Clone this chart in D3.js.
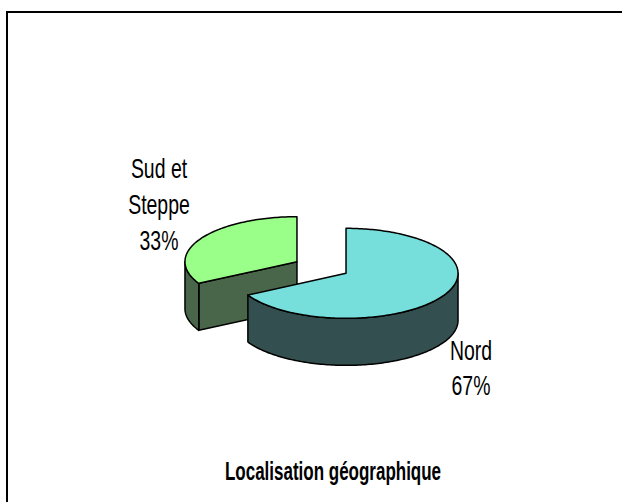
<!DOCTYPE html>
<html>
<head>
<meta charset="utf-8">
<script src="https://cdn.jsdelivr.net/npm/d3@7"></script>
<style>
  html, body { margin: 0; padding: 0; background: #fff; }
  svg { display: block; }
  text { font-family: "Liberation Sans", Arial, sans-serif; }
</style>
</head>
<body>
<svg id="chart" width="622" height="502"></svg>
<script>
// ---- data ----
const categories = ["Nord", "Sud et Steppe"];
const values = [67, 33];
const labelLines = [["Nord"], ["Sud et", "Steppe"]];
const topColors = ["#76DEDB", "#99FF88"];
const sideColors = ["#344F4F", "#4A664A"];
const title = "Localisation géographique";

// ---- geometry ----
const W = 622, H = 502;
const cx = 321.5, cy = 267.5, rx = 112, ry = 45, depth = 47, explode = 28.5;

const svg = d3.select("#chart");

// frame
svg.append("rect")
  .attr("x", 7).attr("y", 12).attr("width", 800).attr("height", 800)
  .attr("fill", "none").attr("stroke", "#000").attr("stroke-width", 2);

const total = d3.sum(values);
const pie = d3.pie().sort(null).startAngle(0).endAngle(2 * Math.PI);
const arcs = pie(values);

function origin(d) {
  const m = (d.startAngle + d.endAngle) / 2;
  return [cx + explode * Math.sin(m), cy - explode * (ry / rx) * Math.cos(m)];
}
function pt(o, a, dy) {
  return [o[0] + rx * Math.sin(a), o[1] - ry * Math.cos(a) + (dy || 0)];
}
function sample(a0, a1) {
  const n = Math.max(2, Math.ceil(Math.abs(a1 - a0) / 0.02));
  return d3.range(n + 1).map(i => a0 + (a1 - a0) * i / n);
}
const line = d3.line();

const g = svg.append("g");
// draw back slice (Sud) first, then Nord
const order = [1, 0];
order.forEach(i => {
  const d = arcs[i];
  const o = origin(d);
  const s = d.startAngle, e = d.endAngle;
  const sg = g.append("g");
  const strokeAttrs = sel => sel.attr("stroke", "#000").attr("stroke-width", 1.5).attr("stroke-linejoin", "round");

  if (Math.sin(s) < -1e-6) {
    const p = pt(o, s);
    sg.append("path")
      .attr("d", line([o, p, [p[0], p[1] + depth], [o[0], o[1] + depth]]) + "Z")
      .attr("fill", sideColors[i]).call(strokeAttrs);
  }
  if (Math.sin(e) > 1e-6) {
    const p = pt(o, e);
    sg.append("path")
      .attr("d", line([o, p, [p[0], p[1] + depth], [o[0], o[1] + depth]]) + "Z")
      .attr("fill", sideColors[i]).call(strokeAttrs);
  }
  const lo = Math.max(s, Math.PI / 2), hi = Math.min(e, 3 * Math.PI / 2);
  if (hi > lo) {
    const angs = sample(lo, hi);
    const topPts = angs.map(a => pt(o, a));
    const botPts = angs.slice().reverse().map(a => pt(o, a, depth));
    sg.append("path")
      .attr("d", line(topPts.concat(botPts)) + "Z")
      .attr("fill", sideColors[i]).call(strokeAttrs);
  }
  const tp = [o].concat(sample(s, e).map(a => pt(o, a)));
  sg.append("path")
    .attr("d", line(tp) + "Z")
    .attr("fill", topColors[i]).call(strokeAttrs);
});

// labels
const labelPos = [
  { x: 471, y: 360, dy: 35 },
  { x: 159, y: 178, dy: 36 }
];
arcs.forEach((d, i) => {
  const lines = labelLines[i].concat([Math.round(values[i] / total * 100) + "%"]);
  lines.forEach((t, k) => {
    svg.append("text")
      .attr("transform", `translate(${labelPos[i].x},${labelPos[i].y + k * labelPos[i].dy}) scale(0.72,1)`)
      .attr("text-anchor", "middle")
      .attr("font-size", 27)
      .attr("fill", "#000")
      .text(t);
  });
});

// title
svg.append("text")
  .attr("transform", `translate(333,480) scale(0.68,1)`)
  .attr("text-anchor", "middle")
  .attr("font-size", 25)
  .attr("font-weight", "bold")
  .attr("fill", "#000")
  .text(title);
</script>
</body>
</html>
